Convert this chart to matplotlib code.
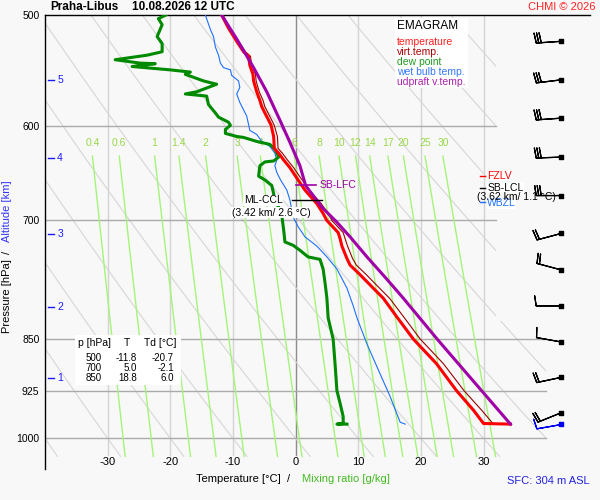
import numpy as np
import matplotlib
matplotlib.use("Agg")
import matplotlib.pyplot as plt
from matplotlib.patches import Polygon, Rectangle

plt.rcParams['font.family'] = ['Liberation Sans', 'DejaVu Sans']

# temperature and virtual temperature [hPa, °C]
p_t = [500, 511, 522, 531, 535, 543, 551, 557, 567, 575, 581, 587, 594, 599, 610, 622, 627, 634,
       642, 650, 661, 666, 681, 692, 700, 714, 721, 730, 745, 753, 765, 782, 795, 819, 850, 885,
       925, 955, 976, 977]
t = [-11.8, -10.7, -9.4, -8.3, -7.5, -7.3, -6.8, -6.7, -6.2, -5.7, -5.4, -4.9, -4.3, -3.9, -3.5,
     -3.4, -2.7, -1.9, -0.9, -0.1, 1.0, 1.5, 3.4, 4.4, 5.0, 6.8, 7.1, 7.4, 8.2, 8.7, 10.3, 12.4,
     14.0, 16.1, 18.8, 22.5, 25.7, 28.4, 30.0, 34.3]
tv = [-11.6, -10.5, -9.1, -8.0, -7.2, -7.0, -6.4, -6.3, -5.8, -5.2, -4.9, -4.4, -3.8, -3.4, -2.9,
      -2.8, -2.1, -1.3, -0.3, 0.5, 1.7, 2.2, 4.1, 5.2, 5.8, 7.6, 7.9, 8.3, 9.1, 9.7, 11.3, 13.4,
      15.0, 17.2, 19.9, 23.6, 26.9, 29.7, 31.5, 34.3]

# dew point
p_td = [500, 503, 508, 518, 524, 531, 534, 538, 541, 541.5, 544, 547, 549, 551, 557, 560, 567, 569,
        571, 579, 587, 591, 596, 599, 603, 607, 610, 611, 615, 618, 623, 631, 635, 636, 640, 651,
        655, 661, 670, 677, 692, 700, 711, 725, 729, 735, 743, 746, 758, 775, 795, 821, 850, 885,
        925, 944, 965, 976, 977, 977]
td = [-20.7, -21.9, -21.3, -22.1, -21.3, -21.3, -23.7, -28.8, -24.8, -22.4, -26.1, -20.0, -16.8,
      -17.6, -14.7, -12.6, -15.8, -17.6, -14.2, -13.9, -12.8, -12.3, -10.7, -10.4, -11.2, -11.2,
      -9.4, -8.3, -6.2, -4.1, -3.3, -2.7, -3.5, -4.9, -5.7, -5.9, -4.9, -3.8, -3.5, -3.3, -2.2,
      -2.1, -1.9, -1.7, -0.4, 0.7, 2.0, 3.9, 4.4, 4.7, 5.0, 5.2, 6.0, 6.3, 6.6, 7.1, 7.6, 7.6,
      6.6, 8.2]

# wet bulb temperature
p_tw = [500, 512, 518, 527, 534, 541, 545, 547, 552, 557, 563, 569, 577, 590, 604, 608, 615, 620,
        627, 634, 640, 647, 655, 666, 677, 696, 707, 719, 730, 743, 758, 782, 805, 821, 857, 900,
        934, 959, 974, 977]
tw = [-14.4, -13.6, -13.1, -12.8, -12.3, -12.0, -11.5, -10.4, -10.2, -9.1, -8.9, -9.4, -8.9, -7.8,
      -7.3, -6.2, -5.4, -4.1, -3.3, -3.0, -3.3, -3.0, -2.4, -1.4, -0.9, -0.4, 0.4, 1.5, 3.4, 5.0,
      6.6, 8.2, 9.2, 9.8, 11.4, 13.5, 15.1, 16.1, 16.7, 17.5]

# updraft virtual temperature
p_up = [500, 520, 545, 567, 594, 616, 640, 661, 685, 702, 719, 743, 770, 795, 850, 925, 977]
t_up = [-11.8, -9.4, -6.7, -4.6, -2.5, -0.9, 0.7, 1.6, 4.2, 6.6, 8.7, 11.4, 14.5, 17.2, 22.6,
        29.7, 34.3]

table_p = [500, 700, 850]
table_t = [-11.8, 5.0, 18.8]
table_td = [-20.7, -2.1, 6.0]

wind_p = [522, 556, 592, 631, 672, 715, 759, 805, 854, 905, 959]
wind_dir = [266, 263, 266, 268, 270, 255, 285, 270, 280, 258, 248]
wind_spd = [30, 30, 30, 30, 30, 20, 20, 10, 10, 20, 20]
sfc_p, sfc_dir, sfc_spd = 977, 260, 10

p_ticks = [500, 600, 700, 850, 925, 1000]
t_ticks = [-30, -20, -10, 0, 10, 20, 30]
mix_ratios = [0.4, 0.6, 1, 1.4, 2, 3, 4, 6, 8, 10, 12, 14, 17, 20, 25, 30]
alt_km = [1, 2, 3, 4, 5]
alt_p = [906.6, 806, 716, 632.2, 556.2]

BG = '#f8f8f8'
fig = plt.figure(figsize=(6, 5), dpi=100, facecolor=BG)
ax = fig.add_axes([45 / 600, 1 - 469 / 500, 545 / 600, 454 / 500])
ax.set_facecolor(BG)
ax.set_yscale('log')
ax.set_ylim(1051.5, 500)
ax.set_xlim(-40, 47)
ax.set_xticks([])
ax.set_yticks(p_ticks)
ax.set_yticklabels([str(p) for p in p_ticks])
ax.yaxis.set_minor_locator(matplotlib.ticker.NullLocator())
ax.tick_params(axis='y', length=0, pad=4, labelsize=7.5)
for s in ['right', 'bottom']:
    ax.spines[s].set_visible(False)
ax.spines['left'].set_linewidth(1.0)
ax.spines['top'].set_linewidth(1.0)

# diagram background: isotherms, isobars, dry adiabats, mixing ratio lines
for tt in t_ticks:
    ax.plot([tt, tt], [500, 1028], color='#8c8c8c' if tt == 0 else '#d4d4d4', lw=1, zorder=1)
for pp in p_ticks[1:]:
    ax.plot([-40, 32 if pp < 800 else 40], [pp, pp], color='#ababab', lw=1, zorder=1.2)

clip = Polygon([(-40, 500), (32, 500), (32, 825), (40, 825), (40, 1031), (-40, 1031)],
               closed=True, transform=ax.transData, facecolor='none', edgecolor='none')
ax.add_patch(clip)
pp = np.linspace(500, 1030, 100)
for th in range(-40, 110, 10):
    ln, = ax.plot((th + 273.15) * (pp / 1000) ** 0.2857 - 273.15, pp, color='#d6d6d6', lw=0.8,
                  zorder=1.1)
    ln.set_clip_path(clip)

pm = np.linspace(630, 1030, 60)
for w in mix_ratios:
    e = w * pm / (622 + w)
    a = np.log(e / 6.112)
    tdm = 243.5 * a / (17.67 - a)
    ax.plot(tdm, pm, color='#a4f47a', lw=1, zorder=1.3)
    ax.text(tdm[0], 617, f'{w:g}', color='#9ad84a', fontsize=7.5, ha='center', va='center',
            zorder=1.4)

for tt in t_ticks:
    ax.text(tt, 1039.5, str(tt), fontsize=8, ha='center', va='center')

# altitude marks
for km, pa in zip(alt_km, alt_p):
    ax.plot([-39.6, -38.6], [pa, pa], color='#1a1aff', lw=1, zorder=2)
    ax.text(-37.6, pa, str(km), color='#1a1aff', fontsize=7.5, ha='center', va='center')

# sounding curves
ax.plot(tw, p_tw, color='#1f6fff', lw=0.8, zorder=3)
ax.plot(td, p_td, color='#008a00', lw=2.2, zorder=3.1)
ax.plot(tv, p_t, color='#990000', lw=0.8, zorder=3.2)
ax.plot(t, p_t, color='#ff0000', lw=2.2, zorder=3.3)
ax.plot(t_up, p_up, color='#a000a8', lw=2.2, zorder=3.4)

# levels
box = dict(facecolor='white', edgecolor='none', pad=0.3)
ax.plot([0, 3.2], [661, 661], color='#a000a8', lw=1.2, zorder=4)
ax.text(3.9, 661, 'SB-LFC', color='#a000a8', fontsize=7.5, va='center', ha='left', zorder=4)
ax.plot([-0.5, 4.2], [677, 677], color='black', lw=1, zorder=4)
ax.text(-2.1, 677, 'ML-CCL', fontsize=7.5, va='center', ha='right', bbox=box, zorder=4)
ax.text(-10.2, 691, '(3.42 km/ 2.6 °C)', fontsize=7.5, va='center', ha='left', bbox=box, zorder=4)

ax.plot([29.4, 30.2], [650.8, 650.8], color='#ff0000', lw=1, zorder=4)
ax.text(30.6, 650.8, 'FZLV', color='#ff0000', fontsize=7.5, va='center', bbox=box, zorder=4)
ax.plot([29.4, 30.2], [663.3, 663.3], color='black', lw=1, zorder=4)
ax.text(30.6, 663.3, 'SB-LCL', fontsize=7.5, va='center', bbox=box, zorder=4)
ax.plot([29.4, 30.2], [679, 679], color='#1f6fff', lw=1, zorder=4)
ax.text(30.6, 680.6, 'WBZL', color='#1f6fff', fontsize=7.5, va='center', bbox=box, zorder=4)
ax.text(29.0, 673.5, '(3.62 km/ 1.1 °C)', fontsize=7.5, va='center', zorder=4.5)

# wind barbs
wd = np.radians(wind_dir)
u = -np.array(wind_spd) * np.sin(wd)
v = -np.array(wind_spd) * np.cos(wd)
bx = 42.4
barb_sizes = dict(spacing=0.1, height=0.4, width=0.12)
ax.barbs([bx] * len(wind_p), wind_p, u, v, length=6, pivot='tip', color='black', lw=0.9,
         sizes=barb_sizes, clip_on=False, zorder=5)
ax.scatter([bx] * len(wind_p), wind_p, marker='s', s=5, color='black', zorder=5, clip_on=False)
us = -sfc_spd * np.sin(np.radians(sfc_dir))
vs = -sfc_spd * np.cos(np.radians(sfc_dir))
ax.barbs([bx], [sfc_p], [us], [vs], length=6, pivot='tip', color='#0000ee', lw=0.9,
         sizes=barb_sizes, clip_on=False, zorder=5)
ax.scatter([bx], [sfc_p], marker='s', s=5, color='#0000ee', zorder=5, clip_on=False)


def fx(x):
    return x / 600


def fy(y):
    return 1 - y / 500


# legend box
fig.patches.append(Rectangle((fx(395), fy(88)), 73 / 600, 70 / 500, transform=fig.transFigure,
                             facecolor='white', edgecolor='none', zorder=1))
fig.text(fx(397), fy(26), 'EMAGRAM', fontsize=8.5, va='center')
legend = [('temperature', '#ff2020'), ('virt.temp.', '#aa0000'), ('dew point', '#229922'),
          ('wet bulb temp.', '#3377ff'), ('udpraft v.temp.', '#aa22aa')]
for i, (name, col) in enumerate(legend):
    fig.text(fx(397), fy(41.7 + 10 * i), name, color=col, fontsize=7.5, va='center')

# table
fig.patches.append(Rectangle((fx(75), fy(385)), 106 / 600, 50 / 500, transform=fig.transFigure,
                             facecolor='white', edgecolor='none', zorder=1))
fig.text(fx(78), fy(343.3), 'p [hPa]', fontsize=7.5, va='center')
fig.text(fx(127), fy(343.3), 'T', fontsize=7.5, va='center', ha='center')
fig.text(fx(144), fy(343.3), 'Td [°C]', fontsize=7.5, va='center')
for i in range(len(table_p)):
    yy = fy(358.3 + 10 * i)
    fig.text(fx(102), yy, str(table_p[i]), fontsize=7, va='center', ha='right')
    fig.text(fx(137), yy, f'{table_t[i]:.1f}', fontsize=7, va='center', ha='right')
    fig.text(fx(174), yy, f'{table_td[i]:.1f}', fontsize=7, va='center', ha='right')

# titles and labels
fig.text(fx(50), fy(7.5), 'Praha-Libus', fontsize=8.5, weight='bold', va='center')
fig.text(fx(132), fy(7.5), '10.08.2026 12 UTC', fontsize=8.5, weight='bold', va='center')
fig.text(fx(596), fy(7.5), 'CHMI © 2026', fontsize=8, color='#ff2222', va='center', ha='right')
fig.text(fx(281), fy(479.5), 'Temperature [°C]', fontsize=8, va='center', ha='right')
fig.text(fx(289), fy(479.5), '/', fontsize=8, va='center', ha='center')
fig.text(fx(302), fy(479.5), 'Mixing ratio [g/kg]', fontsize=8, va='center', ha='left',
         color='#44bb22')
fig.text(fx(590), fy(481), 'SFC: 304 m ASL', fontsize=8, va='center', ha='right', color='#2222dd')
fig.text(fx(7.5), fy(333), 'Pressure [hPa]', fontsize=8, va='bottom', ha='center',
         rotation=90)
fig.text(fx(7.5), fy(252), '/', fontsize=8, va='center', ha='center', rotation=90)
fig.text(fx(7.5), fy(242), 'Altitude [km]', fontsize=8, va='bottom', ha='center',
         rotation=90, color='#3333ff')

fig.savefig('out.png', dpi=100, facecolor=BG)
